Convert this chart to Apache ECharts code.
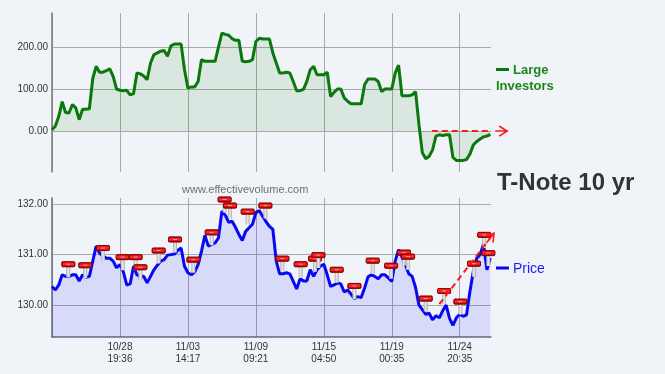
<!DOCTYPE html>
<html><head><meta charset="utf-8">
<script src="https://cdn.jsdelivr.net/npm/echarts@6/dist/echarts.min.js"></script>
<style>html,body{margin:0;padding:0;background:#f0f3f8}#c{width:665px;height:374px}</style>
</head><body><div id="c"></div>
<script>
// ---- data ----
const xTickPositions = [0, 100, 200, 300, 400, 500, 600];
const xTickLabels = ['', '10/28\n19:36', '11/03\n14:17', '11/09\n09:21', '11/15\n04:50', '11/19\n00:35', '11/24\n20:35'];
const sampleStep = 5;
const largeInvestors = [
  3, 12, 35, 70, 44, 43, 63, 55, 27, 52,
  52, 53, 125, 154, 140, 140, 144, 148, 130, 100,
  97, 96, 97, 86, 89, 138, 136, 131, 122, 162,
  182, 186, 190, 192, 178, 203, 207, 207, 207, 146,
  102, 105, 105, 118, 170, 166, 166, 166, 166, 200,
  233, 230, 228, 220, 216, 216, 166, 165, 166, 170,
  213, 221, 219, 219, 219, 186, 162, 138, 138, 140,
  138, 118, 96, 96, 99, 118, 146, 154, 134, 134,
  134, 140, 82, 92, 100, 100, 79, 71, 65, 65,
  65, 65, 110, 124, 124, 124, 118, 94, 100, 100,
  100, 138, 157, 84, 84, 84, 86, 94, 15, -52,
  -66, -60, -45, -12, -9, -11, -9, -9, -63, -70,
  -70, -70, -68, -55, -33, -25, -19, -14, -12, -8
];
const price = [
  130.37, 130.30, 130.40, 130.60, 130.57, 130.57, 130.60, 130.60, 130.48, 130.60,
  130.55, 130.57, 130.87, 131.17, 131.03, 130.97, 130.93, 130.93, 130.87, 130.74,
  130.80, 130.66, 130.40, 130.42, 130.77, 130.60, 130.57, 130.57, 130.44, 130.57,
  130.70, 130.79, 130.87, 130.90, 130.99, 131.00, 131.01, 131.08, 131.13, 130.77,
  130.64, 130.60, 130.66, 130.80, 131.07, 131.38, 131.17, 131.20, 131.23, 131.33,
  131.86, 131.78, 131.64, 131.66, 131.54, 131.40, 131.28, 131.46, 131.53, 131.60,
  131.83, 131.87, 131.76, 131.65, 131.56, 131.50, 130.87, 130.62, 130.62, 130.64,
  130.62, 130.47, 130.32, 130.52, 130.48, 130.48, 130.70, 130.57, 130.70, 130.77,
  130.81, 130.60, 130.37, 130.40, 130.44, 130.42, 130.26, 130.30, 130.22, 130.13,
  130.17, 130.15, 130.34, 130.56, 130.60, 130.57, 130.52, 130.60, 130.60, 130.54,
  130.47, 130.87, 131.10, 130.95, 130.80, 130.62, 130.57, 130.35, 130.00, 129.91,
  129.82, 129.84, 129.71, 129.79, 129.75, 129.89, 130.00, 129.74, 129.60, 129.75,
  129.82, 129.78, 129.81, 130.27, 130.67, 130.93, 131.00, 131.21, 130.70, 130.93
];
const flagPositions = [24, 49, 75, 104, 123, 130, 157, 181, 208, 235, 254, 262, 288, 314, 339, 366, 387, 392, 419, 445, 472, 499, 518, 524, 550, 577, 601, 621, 636, 642];
const flagValues = [130.81, 130.79, 131.13, 130.95, 130.95, 130.75, 131.08, 131.30, 130.90, 131.44, 132.09, 131.97, 131.85, 131.97, 130.92, 130.81, 130.92, 130.99, 130.70, 130.38, 130.88, 130.78, 131.04, 130.96, 130.13, 130.28, 130.07, 130.82, 131.39, 131.03];
const investorsTrend = [[559, 0], [661, 0]];
const priceTrend = [[570, 130.02], [645, 131.33]];
const investorTicks = [0, 100, 200];
const priceTicks = [130, 131, 132];
const investorRange = [-97.6, 281];
const priceRange = [129.37, 132.12];
const xRange = [0, 646];

// ---- chart ----
const FONT = '"Liberation Sans", Arial, sans-serif';
const chart = echarts.init(document.getElementById('c'), null, {renderer: 'canvas'});
const toXY = (arr) => arr.map((v, i) => [i * sampleStep, v]);
const arrowHead = 'path://M0,0L8,5L0,10M8,5L-4,5';

function trendData(pts, rot) {
  return [
    {value: pts[0], symbol: 'none'},
    {value: pts[1], symbol: arrowHead, symbolSize: [12, 10], symbolRotate: rot,
     itemStyle: {color: 'rgba(0,0,0,0)', borderColor: '#ff1a1a', borderWidth: 1.7}}
  ];
}

const xAxisBase = {
  type: 'value', min: xRange[0], max: xRange[1],
  axisTick: {show: false, customValues: xTickPositions},
  splitLine: {show: true, lineStyle: {color: '#a9a9a9', width: 1}}
};

const option = {
  animation: false,
  backgroundColor: '#f0f3f8',
  grid: [
    {left: 52, right: 174, top: 13, height: 159},
    {left: 52, right: 174, top: 198, height: 139}
  ],
  xAxis: [
    Object.assign({}, xAxisBase, {gridIndex: 0, axisLine: {show: false}, axisLabel: {show: false, customValues: xTickPositions}}),
    Object.assign({}, xAxisBase, {gridIndex: 1,
      axisLine: {show: true, lineStyle: {color: '#6c6c78', width: 1.5}},
      axisLabel: {show: true, customValues: xTickPositions, color: '#333', fontSize: 10, fontFamily: FONT, lineHeight: 12, margin: 4,
        formatter: (v) => { const k = xTickPositions.indexOf(v); return k >= 0 ? xTickLabels[k] : ''; }}
    })
  ],
  yAxis: [
    {type: 'value', gridIndex: 0, min: investorRange[0], max: investorRange[1],
     axisLine: {show: true, lineStyle: {color: '#7a7a7a', width: 1.5}},
     axisTick: {show: false, customValues: investorTicks},
     axisLabel: {customValues: investorTicks, color: '#333', fontSize: 10, fontFamily: FONT, margin: 4,
       formatter: (v) => v.toFixed(2)},
     splitLine: {show: true, lineStyle: {color: '#a9a9a9'}}},
    {type: 'value', gridIndex: 1, min: priceRange[0], max: priceRange[1],
     axisLine: {show: true, lineStyle: {color: '#6c6c78', width: 1.5}},
     axisTick: {show: false, customValues: priceTicks},
     axisLabel: {customValues: priceTicks, color: '#333', fontSize: 10, fontFamily: FONT, margin: 4,
       formatter: (v) => v.toFixed(2)},
     splitLine: {show: true, lineStyle: {color: '#a9a9a9'}}}
  ],
  series: [
    {type: 'line', name: 'Large Investors', xAxisIndex: 0, yAxisIndex: 0, data: toXY(largeInvestors),
     showSymbol: false, lineStyle: {color: '#0a780a', width: 3}, itemStyle: {color: '#0a780a'},
     areaStyle: {color: 'rgba(0,122,0,0.135)', origin: 'auto'}, z: 3},
    {type: 'line', name: 'Price', xAxisIndex: 1, yAxisIndex: 1, data: toXY(price),
     showSymbol: false, lineStyle: {color: '#0808f4', width: 3}, itemStyle: {color: '#0808f4'},
     areaStyle: {color: 'rgba(0,0,255,0.146)', origin: 'start'}, z: 3},
    {type: 'custom', name: 'flags', xAxisIndex: 1, yAxisIndex: 1, clip: false, z: 5,
     data: flagPositions.map((u, i) => [u, flagValues[i]]),
     renderItem: (params, api) => {
       const p = api.coord([api.value(0), api.value(1)]);
       return {type: 'group', children: [
         {type: 'rect', shape: {x: p[0] - 2, y: p[1] + 2, width: 4, height: 11},
          style: {fill: new echarts.graphic.LinearGradient(0, 0, 1, 0, [
            {offset: 0, color: '#a8a8a8'}, {offset: 0.5, color: '#eeeeee'}, {offset: 1, color: '#a8a8a8'}])}},
         {type: 'rect', shape: {x: p[0] - 6.5, y: p[1] - 2.5, width: 13, height: 5, r: 1},
          style: {fill: new echarts.graphic.LinearGradient(0, 0, 0, 1, [
            {offset: 0, color: '#e01010'}, {offset: 0.5, color: '#ff2a2a'}, {offset: 1, color: '#a00000'}]),
            stroke: '#8a0000', lineWidth: 0.8}},
         {type: 'rect', shape: {x: p[0] - 2, y: p[1] - 0.5, width: 4, height: 1},
          style: {fill: '#ff9a9a'}}
       ]};
     }},
    {type: 'line', name: 'trendTop', xAxisIndex: 0, yAxisIndex: 0, clip: false, z: 6,
     data: trendData(investorsTrend, 0), showSymbol: true,
     lineStyle: {color: '#ff1a1a', width: 2, type: [6, 4]}},
    {type: 'line', name: 'trendBottom', xAxisIndex: 1, yAxisIndex: 1, clip: false, z: 6,
     data: trendData(priceTrend, 0), showSymbol: true,
     lineStyle: {color: '#ff1a1a', width: 2, type: [6, 4]}}
  ],
  graphic: [
    {type: 'text', left: 182, top: 184, style: {text: 'www.effectivevolume.com', fill: '#707070', font: '11px ' + FONT}},
    {type: 'text', left: 497, top: 171, style: {text: 'T-Note 10 yr', fill: '#333333', font: 'bold 24px ' + FONT}},
    {type: 'rect', left: 496, top: 68, shape: {width: 13, height: 3}, style: {fill: '#0a780a'}},
    {type: 'text', left: 513, top: 64, style: {text: 'Large', fill: '#1c861c', font: 'bold 13px ' + FONT}},
    {type: 'text', left: 496, top: 80, style: {text: 'Investors', fill: '#1c861c', font: 'bold 13px ' + FONT}},
    {type: 'rect', left: 496, top: 266.5, shape: {width: 13, height: 3}, style: {fill: '#0808f4'}},
    {type: 'text', left: 513, top: 262, style: {text: 'Price', fill: '#1a1aff', font: '14px ' + FONT}}
  ]
};
chart.setOption(option);

// rotate the bottom arrowhead along its trend line, using the chart's own scales
const a = chart.convertToPixel({gridIndex: 1}, priceTrend[0]);
const b = chart.convertToPixel({gridIndex: 1}, priceTrend[1]);
const ang = Math.atan2(a[1] - b[1], b[0] - a[0]) * 180 / Math.PI;
chart.setOption({series: [{}, {}, {}, {}, {data: trendData(priceTrend, ang)}]});
</script></body></html>
